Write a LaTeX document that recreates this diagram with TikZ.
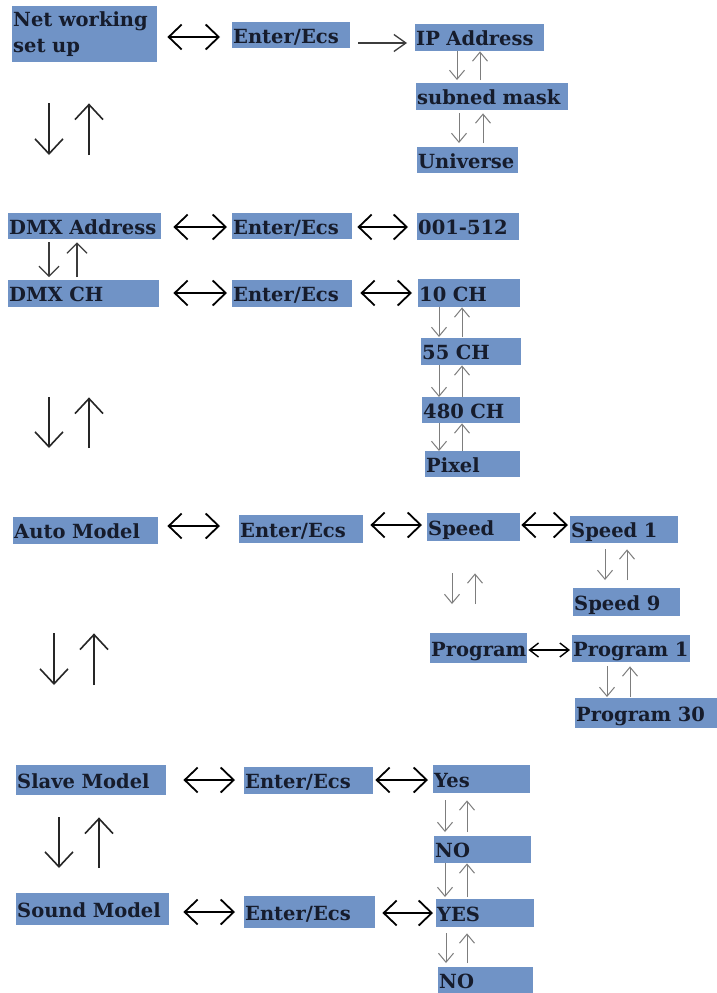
\documentclass[tikz,border=0pt]{standalone}
\usepackage{fontspec}
\setmainfont{DejaVu Serif}
\usetikzlibrary{arrows.meta}
\definecolor{boxblue}{RGB}{112,147,198}
\definecolor{ink}{RGB}{22,28,44}
\definecolor{sgray}{RGB}{125,125,125}
\definecolor{dgray}{RGB}{60,60,60}
\tikzset{
  box/.style={fill=boxblue, text=ink, anchor=north west, inner xsep=1pt, inner ysep=0pt,
    align=left, font=\fontsize{19.5}{26}\selectfont\bfseries, text height=18pt, text depth=2pt},
  bh/.style={line width=1.8pt, draw=black,
    {Straight Barb[length=13pt,width=25pt]}-{Straight Barb[length=13pt,width=25pt]}},
  ph/.style={line width=1.4pt, draw=black,
    {Straight Barb[length=9pt,width=14pt]}-{Straight Barb[length=9pt,width=14pt]}},
  mh/.style={line width=1.3pt, draw=dgray, -{Straight Barb[length=12pt,width=17pt]}},
  bv/.style={line width=1.6pt, draw=black!85, -{Straight Barb[length=15pt,width=28pt]}},
  dv/.style={line width=1.2pt, draw=dgray, -{Straight Barb[length=10pt,width=20pt]}},
  sv/.style={line width=1pt, draw=sgray, -{Straight Barb[length=9pt,width=15pt]}},
}
\newcommand\mkbox[6]{%
  \pgfmathsetlengthmacro\bxw{#4-#2-2}%
  \pgfmathsetlengthmacro\bxh{#5-#3}%
  \node[box, text width=\bxw, minimum height=\bxh] (#1) at (#2,#3) {#6};}
\begin{document}
\begin{tikzpicture}[x=1pt,y=-1pt]
\fill[white] (0,0) rectangle (717,993);
\useasboundingbox (0,0) rectangle (717,993);
% boxes
\node[box, text width=143pt, minimum height=56pt, text height=15pt, text depth=30pt] (net) at (12,6) {Net working\\set up};
\mkbox{e1}{232}{22}{350}{48}{Enter/Ecs}
\mkbox{ip}{415}{24}{544}{51}{IP Address}
\mkbox{sub}{416}{83}{568}{110}{subned mask}
\mkbox{uni}{417}{147}{518}{173}{Universe}
\mkbox{dmxa}{8}{213}{161}{239}{DMX Address}
\mkbox{e2}{232}{213}{352}{239}{Enter/Ecs}
\mkbox{r512}{417}{213}{519}{240}{001-512}
\mkbox{dmxch}{8}{280}{159}{307}{DMX CH}
\mkbox{e3}{232}{280}{352}{307}{Enter/Ecs}
\mkbox{ch10}{418}{279}{520}{307}{10 CH}
\mkbox{ch55}{421}{338}{521}{365}{55 CH}
\mkbox{ch480}{422}{397}{520}{423}{480 CH}
\mkbox{pix}{425}{451}{520}{477}{Pixel}
\mkbox{auto}{13}{517}{158}{544}{Auto Model}
\mkbox{e4}{239}{515}{363}{543}{Enter/Ecs}
\mkbox{speed}{427}{513}{520}{541}{Speed}
\mkbox{sp1}{570}{516}{678}{543}{Speed 1}
\mkbox{sp9}{573}{588}{680}{616}{Speed 9}
\mkbox{prog}{430}{633}{527}{663}{Program}
\mkbox{pr1}{572}{635}{690}{662}{Program 1}
\mkbox{pr30}{575}{698}{717}{728}{Program 30}
\mkbox{slave}{16}{765}{166}{795}{Slave Model}
\mkbox{e5}{244}{767}{373}{794}{Enter/Ecs}
\mkbox{yes}{433}{765}{530}{793}{Yes}
\mkbox{no1}{434}{836}{531}{863}{NO}
\mkbox{sound}{16}{893}{169}{925}{Sound Model}
\mkbox{e6}{244}{896}{375}{928}{Enter/Ecs}
\mkbox{yes2}{436}{899}{534}{927}{YES}
\mkbox{no2}{438}{967}{533}{993}{NO}
% horizontal connectors
\draw[bh, shorten <=10pt, shorten >=12pt] (net.east |- 0,37) -- (e1.west |- 0,37);
\draw[mh, shorten <=8pt, shorten >=8pt] (e1.east |- 0,43) -- (ip.west |- 0,43);
\draw[bh, shorten <=12pt, shorten >=5pt] (dmxa.east |- 0,227) -- (e2.west |- 0,227);
\draw[bh, shorten <=5pt, shorten >=9pt] (e2.east |- 0,227) -- (r512.west |- 0,227);
\draw[bh, shorten <=14pt, shorten >=5pt] (dmxch.east |- 0,293) -- (e3.west |- 0,293);
\draw[bh, shorten <=8pt, shorten >=6pt] (e3.east |- 0,293) -- (ch10.west |- 0,293);
\draw[bh, shorten <=9pt, shorten >=19pt] (auto.east |- 0,526) -- (e4.west |- 0,526);
\draw[bh, shorten <=7pt, shorten >=5pt] (e4.east |- 0,525) -- (speed.west |- 0,525);
\draw[bh, shorten <=1pt, shorten >=2pt] (speed.east |- 0,525) -- (sp1.west |- 0,525);
\draw[ph, shorten <=1pt, shorten >=2pt] (prog.east |- 0,650) -- (pr1.west |- 0,650);
\draw[bh, shorten <=17pt, shorten >=9pt] (slave.east |- 0,780) -- (e5.west |- 0,780);
\draw[bh, shorten <=2pt, shorten >=5pt] (e5.east |- 0,780) -- (yes.west |- 0,780);
\draw[bh, shorten <=14pt, shorten >=9pt] (sound.east |- 0,912) -- (e6.west |- 0,912);
\draw[bh, shorten <=7pt, shorten >=3pt] (e6.east |- 0,913) -- (yes2.west |- 0,913);
% big vertical pairs
\draw[bv, shorten <=41pt, shorten >=58pt] (net.south -| 49,0) -- (dmxa.north -| 49,0);
\draw[bv, shorten <=58pt, shorten >=41pt] (dmxa.north -| 89,0) -- (net.south -| 89,0);
\draw[bv, shorten <=90pt, shorten >=69pt] (dmxch.south -| 49,0) -- (auto.north -| 49,0);
\draw[bv, shorten <=69pt, shorten >=90pt] (auto.north -| 89,0) -- (dmxch.south -| 89,0);
\draw[bv, shorten <=89pt, shorten >=80pt] (auto.south -| 54,0) -- (slave.north -| 54,0);
\draw[bv, shorten <=80pt, shorten >=89pt] (slave.north -| 94,0) -- (auto.south -| 94,0);
\draw[bv, shorten <=22pt, shorten >=25pt] (slave.south -| 59,0) -- (sound.north -| 59,0);
\draw[bv, shorten <=25pt, shorten >=22pt] (sound.north -| 99,0) -- (slave.south -| 99,0);
\draw[dv, shorten <=3pt, shorten >=3pt] (dmxa.south -| 49,0) -- (dmxch.north -| 49,0);
\draw[dv, shorten <=3pt, shorten >=3pt] (dmxch.north -| 77,0) -- (dmxa.south -| 77,0);
% small gray pairs
\draw[sv, shorten >=3pt] (ip.south -| 457,0) -- (sub.north -| 457,0);
\draw[sv, shorten <=3pt] (sub.north -| 480,0) -- (ip.south -| 480,0);
\draw[sv, shorten <=3pt, shorten >=4pt] (sub.south -| 459,0) -- (uni.north -| 459,0);
\draw[sv, shorten <=4pt, shorten >=3pt] (uni.north -| 483,0) -- (sub.south -| 483,0);
\draw[sv, shorten >=1pt] (ch10.south -| 439,0) -- (ch55.north -| 439,0);
\draw[sv, shorten <=1pt] (ch55.north -| 462,0) -- (ch10.south -| 462,0);
\draw[sv] (ch55.south -| 439,0) -- (ch480.north -| 439,0);
\draw[sv] (ch480.north -| 462,0) -- (ch55.south -| 462,0);
\draw[sv] (ch480.south -| 439,0) -- (pix.north -| 439,0);
\draw[sv] (pix.north -| 462,0) -- (ch480.south -| 462,0);
\draw[sv, shorten <=32pt, shorten >=29pt] (speed.south -| 452,0) -- (prog.north -| 452,0);
\draw[sv, shorten <=29pt, shorten >=32pt] (prog.north -| 475,0) -- (speed.south -| 475,0);
\draw[sv, shorten <=6pt, shorten >=8pt] (sp1.south -| 605,0) -- (sp9.north -| 605,0);
\draw[sv, shorten <=8pt, shorten >=6pt] (sp9.north -| 627,0) -- (sp1.south -| 627,0);
\draw[sv, shorten <=4pt, shorten >=1pt] (pr1.south -| 607,0) -- (pr30.north -| 607,0);
\draw[sv, shorten <=1pt, shorten >=4pt] (pr30.north -| 630,0) -- (pr1.south -| 630,0);
\draw[sv, shorten <=7pt, shorten >=4pt] (yes.south -| 445,0) -- (no1.north -| 445,0);
\draw[sv, shorten <=4pt, shorten >=7pt] (no1.north -| 467,0) -- (yes.south -| 467,0);
\draw[sv, shorten >=2pt] (no1.south -| 445,0) -- (yes2.north -| 445,0);
\draw[sv, shorten <=2pt] (yes2.north -| 467,0) -- (no1.south -| 467,0);
\draw[sv, shorten <=6pt, shorten >=4pt] (yes2.south -| 446,0) -- (no2.north -| 446,0);
\draw[sv, shorten <=4pt, shorten >=6pt] (no2.north -| 467,0) -- (yes2.south -| 467,0);
\end{tikzpicture}
\end{document}
